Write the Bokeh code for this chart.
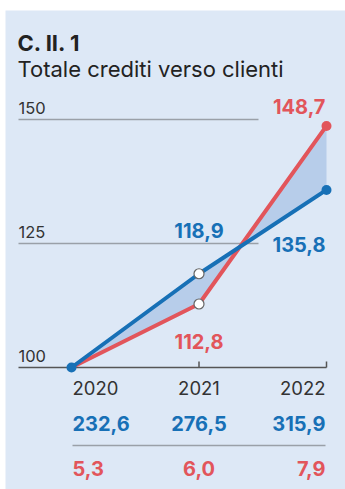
from bokeh.plotting import figure
from bokeh.models import BoxAnnotation, Range1d
from bokeh.core.properties import value
from bokeh.embed import file_html
from bokeh.resources import INLINE

# ---- data ----
years = [2020, 2021, 2022]
year_labels = ["2020", "2021", "2022"]
blue_index = [100, 118.9, 135.8]
red_index = [100, 112.8, 148.7]
blue_values = ["232,6", "276,5", "315,9"]
red_values = ["5,3", "6,0", "7,9"]
y_ticks = [100, 125, 150]
title = "C. II. 1"
subtitle = "Totale crediti verso clienti"

BLUE = "#1770b6"
RED = "#e2555b"
BG = "#dde8f6"
FILL = "#b7cdea"
GRID = "#9aa0a8"
TXT = "#333333"
FONT = "Inter"

W, H = 345, 489
# pixel mapping
XPX = 127.5          # px per year
X0PX = 71            # pixel x of 2020
YPX = 4.96           # px per index unit
Y100PX = 367         # pixel y of 100

x_start = years[0] - X0PX / XPX
x_end = x_start + W / XPX
y_top = 100 + Y100PX / YPX
y_bot = y_top - H / YPX

def X(px):
    return x_start + px / XPX

def Y(py):
    return y_top - py / YPX

p = figure(width=W, height=H, output_backend="svg", toolbar_location=None,
           x_range=Range1d(x_start, x_end), y_range=Range1d(y_bot, y_top),
           min_border=0, outline_line_color=None)
p.axis.visible = False
p.grid.visible = False
p.background_fill_color = "white"
p.border_fill_color = "white"

p.add_layout(BoxAnnotation(left=X(5), top=Y(10), fill_color=BG, fill_alpha=1,
                           line_color=None, level="underlay"))

# title
p.text(x=[X(17)], y=[Y(42)], text=[title], text_font=value(FONT),
       text_font_style="bold", text_font_size="22px", text_color="#222222",
       text_baseline="middle", text_align="left")
p.text(x=[X(17)], y=[Y(68.5)], text=[subtitle], text_font=value(FONT),
       text_font_size="22px", text_color="#222222",
       text_baseline="middle", text_align="left")

# gridlines and labels
for t in y_ticks:
    if t != 100:
        p.segment(x0=[X(18)], x1=[X(258)], y0=[t], y1=[t], line_color=GRID, line_width=1.5)
    p.text(x=[X(18)], y=[t + 12 / YPX], text=[str(t)], text_font=value(FONT),
           text_font_size="16.5px", text_color=TXT, text_baseline="middle")

# baseline axis with ticks
p.segment(x0=[X(18)], x1=[X(326)], y0=[100], y1=[100], line_color="#555555", line_width=1.5)
p.segment(x0=years[1:], x1=years[1:], y0=[100] * 2, y1=[100 + 6 / YPX] * 2,
          line_color="#555555", line_width=1.5)

# fill between lines
p.varea(x=years, y1=blue_index, y2=red_index, fill_color=FILL, fill_alpha=1)

# lines
p.line(years, red_index, line_color=RED, line_width=4)
p.line(years, blue_index, line_color=BLUE, line_width=4)

# markers
p.scatter([years[2]], [red_index[2]], size=10, fill_color=RED, line_color=None)
p.scatter([years[0], years[2]], [blue_index[0], blue_index[2]], size=10,
          fill_color=BLUE, line_color=None)
p.scatter([years[1], years[1]], [blue_index[1], red_index[1]], size=10,
          fill_color="white", line_color="#666666", line_width=1.2)

# value labels on chart
bold = dict(text_font=value(FONT), text_font_style="bold", text_font_size="20px",
            text_baseline="middle")
p.text(x=[X(325)], y=[Y(106)], text=[f"{red_index[2]:.1f}".replace(".", ",")],
       text_color=RED, text_align="right", **bold)
p.text(x=[years[1]], y=[Y(230)], text=[f"{blue_index[1]:.1f}".replace(".", ",")],
       text_color=BLUE, text_align="center", **bold)
p.text(x=[X(325)], y=[Y(243.5)], text=[f"{blue_index[2]:.1f}".replace(".", ",")],
       text_color=BLUE, text_align="right", **bold)
p.text(x=[years[1]], y=[Y(341)], text=[f"{red_index[1]:.1f}".replace(".", ",")],
       text_color=RED, text_align="center", **bold)

# table rows below
xs = [X(72), years[1], X(325)]
aligns = ["left", "center", "right"]
for i in range(3):
    p.text(x=[xs[i]], y=[Y(387)], text=[year_labels[i]], text_font=value(FONT),
           text_font_size="18.5px", text_color=TXT, text_baseline="middle",
           text_align=aligns[i])
    p.text(x=[xs[i]], y=[Y(423)], text=[blue_values[i]], text_color=BLUE,
           text_align=aligns[i], **bold)
    p.text(x=[xs[i]], y=[Y(468)], text=[red_values[i]], text_color=RED,
           text_align=aligns[i], **bold)
p.segment(x0=[X(72)], x1=[X(325)], y0=[Y(445)], y1=[Y(445)], line_color=GRID, line_width=1.5)

open("out.html", "w").write(file_html(p, INLINE))
